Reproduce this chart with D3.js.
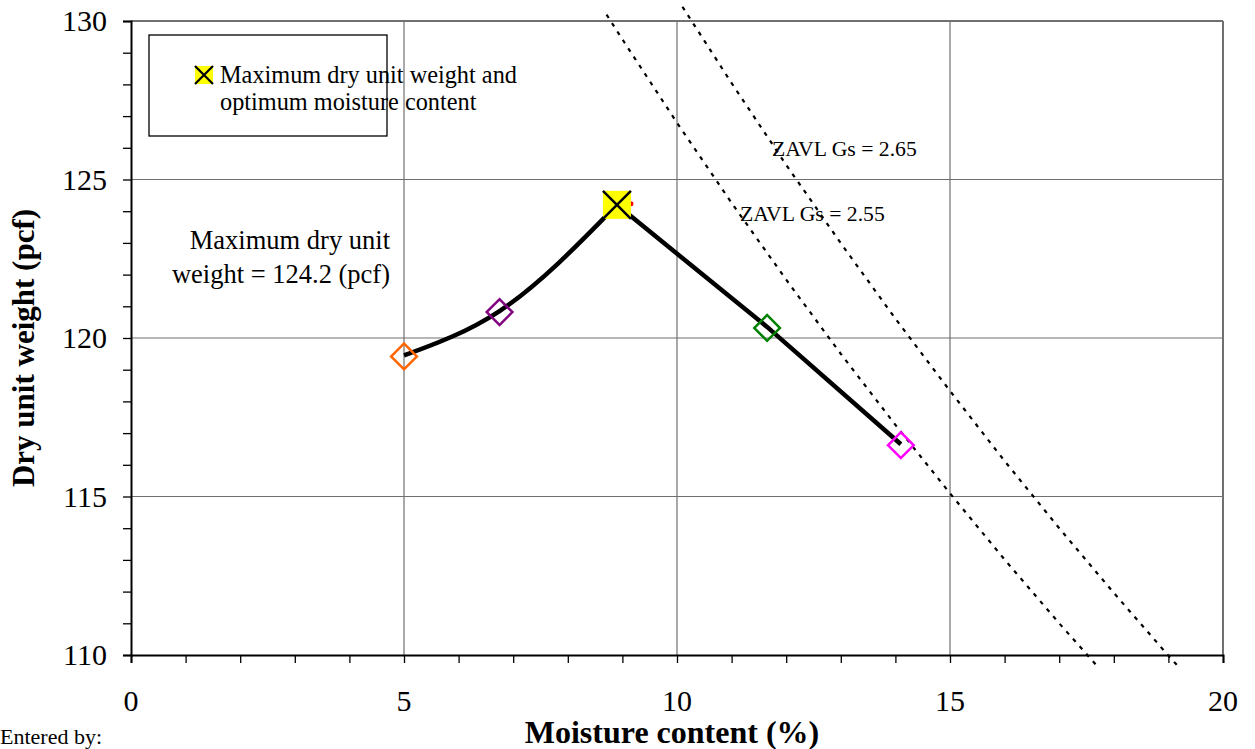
<!DOCTYPE html>
<html>
<head>
<meta charset="utf-8">
<script src="https://cdn.jsdelivr.net/npm/d3@7"></script>
<style>
  body { margin: 0; background: #fff; overflow: hidden; }
  text { font-family: "Liberation Serif", "Times New Roman", serif; }
</style>
</head>
<body>
<script>
// Compaction test data
const moisture = [5.0, 6.75, 8.9, 11.65, 14.1];
const dryWeight = [119.45, 120.85, 124.2, 120.35, 116.65];
const pointColors = ["#ff6600", "#800080", null, "#008000", "#ff00ff"];
const maxPoint = { w: 8.9, y: 124.2 };

// Zero air void lines
const zav265w = [10.1, 11, 12, 13, 14, 15, 16, 17, 18, 19, 19.2];
const zav265y = [130.45, 128.04, 125.46, 122.99, 120.61, 118.33, 116.12, 114.0, 111.96, 109.98, 109.6];
const zav255w = [8.71, 9, 10, 11, 12, 13, 14, 15, 16, 17, 17.72];
const zav255y = [130.2, 129.42, 126.79, 124.26, 121.84, 119.5, 117.26, 115.1, 113.01, 111.0, 109.6];

const xTicks = [0, 5, 10, 15, 20];
const yTicks = [110, 115, 120, 125, 130];

const width = 1255;
const height = 749;
const margin = { left: 131, right: 32, top: 21, bottom: 94 };

const svg = d3.select("body").append("svg")
    .attr("width", width)
    .attr("height", height);

const x = d3.scaleLinear().domain([0, 20]).range([margin.left, width - margin.right]);
const y = d3.scaleLinear().domain([110, 130]).range([height - margin.bottom, margin.top]);

// gridlines
svg.append("g").selectAll("line.v")
    .data([5, 10, 15, 20])
    .enter().append("line")
    .attr("x1", d => x(d)).attr("x2", d => x(d))
    .attr("y1", y(110)).attr("y2", y(130))
    .attr("stroke", "#707070").attr("stroke-width", d => d === 20 ? 2 : 1.2);
svg.append("g").selectAll("line.h")
    .data([115, 120, 125, 130])
    .enter().append("line")
    .attr("x1", x(0)).attr("x2", x(20))
    .attr("y1", d => y(d)).attr("y2", d => y(d))
    .attr("stroke", "#707070").attr("stroke-width", d => d === 130 ? 2 : 1.2);

// axes
const xAxis = d3.axisBottom(x).tickValues(d3.range(0, 21, 1)).tickSize(8).tickFormat("");
const yAxis = d3.axisLeft(y).tickValues(d3.range(110, 131, 1)).tickSize(8).tickFormat("");
const gx = svg.append("g").attr("transform", `translate(0,${y(110)})`).call(xAxis);
const gy = svg.append("g").attr("transform", `translate(${x(0)},0)`).call(yAxis);
[gx, gy].forEach(g => {
    g.select(".domain").attr("stroke", "#000").attr("stroke-width", 2);
    g.selectAll(".tick line").attr("stroke", "#000").attr("stroke-width", 1.3);
});

svg.append("g").selectAll("text")
    .data(xTicks)
    .enter().append("text")
    .attr("x", d => x(d))
    .attr("y", y(110) + 56)
    .attr("text-anchor", "middle")
    .attr("font-size", 30)
    .text(d => d);
svg.append("g").selectAll("text")
    .data(yTicks)
    .enter().append("text")
    .attr("x", x(0) - 24)
    .attr("y", d => y(d) + 10)
    .attr("text-anchor", "end")
    .attr("font-size", 30)
    .text(d => d);

// axis titles
svg.append("text")
    .attr("x", 672).attr("y", 743)
    .attr("text-anchor", "middle")
    .attr("font-size", 32).attr("font-weight", "bold")
    .text("Moisture content (%)");
svg.append("text")
    .attr("transform", "translate(34,348) rotate(-90)")
    .attr("text-anchor", "middle")
    .attr("font-size", 31).attr("font-weight", "bold")
    .text("Dry unit weight (pcf)");

svg.append("text")
    .attr("x", 0).attr("y", 744)
    .attr("font-size", 22)
    .text("Entered by:");

// ZAV lines
const zavLine = d3.line().x(d => x(d[0])).y(d => y(d[1]));
[[zav265w, zav265y], [zav255w, zav255y]].forEach(([ws, ys]) => {
    svg.append("path")
        .attr("d", zavLine(ws.map((w, i) => [w, ys[i]])))
        .attr("fill", "none")
        .attr("stroke", "#000")
        .attr("stroke-width", 2.2)
        .attr("stroke-dasharray", "4,6");
});
svg.append("text").attr("x", 772).attr("y", 156).attr("font-size", 21.7).text("ZAVL Gs = 2.65");
svg.append("text").attr("x", 740).attr("y", 221).attr("font-size", 21.7).text("ZAVL Gs = 2.55");

// compaction curve
const pts = moisture.map((w, i) => [w, dryWeight[i]]);
const curveUp = d3.line().x(d => x(d[0])).y(d => y(d[1])).curve(d3.curveMonotoneX);
const curveDown = d3.line().x(d => x(d[0])).y(d => y(d[1]));
svg.append("path")
    .attr("d", curveUp(pts.slice(0, 3)))
    .attr("fill", "none").attr("stroke", "#000").attr("stroke-width", 4.5);
svg.append("path")
    .attr("d", curveDown(pts.slice(2)))
    .attr("fill", "none").attr("stroke", "#000").attr("stroke-width", 4.5);

// diamond markers
const diamond = d3.symbol().type(d3.symbolSquare).size(330);
svg.append("g").selectAll("path")
    .data(pts.map((p, i) => ({ p, c: pointColors[i] })).filter(d => d.c))
    .enter().append("path")
    .attr("d", diamond)
    .attr("transform", d => `translate(${x(d.p[0])},${y(d.p[1]) + 1}) rotate(45)`)
    .attr("fill", "none")
    .attr("stroke", d => d.c)
    .attr("stroke-width", 2.5);

// maximum marker
function maxMarker(g, cx, cy, s) {
    g.append("rect")
        .attr("x", cx - s / 2).attr("y", cy - s / 2)
        .attr("width", s).attr("height", s)
        .attr("fill", "#ffff00");
    g.append("path")
        .attr("d", `M${cx - s / 2},${cy - s / 2}L${cx + s / 2},${cy + s / 2}M${cx + s / 2},${cy - s / 2}L${cx - s / 2},${cy + s / 2}`)
        .attr("stroke", "#000")
        .attr("stroke-width", s > 20 ? 2.5 : 2.2);
}
svg.append("circle")
    .attr("cx", x(maxPoint.w) + 14).attr("cy", y(maxPoint.y) - 1)
    .attr("r", 2.5).attr("fill", "#ff0000");
maxMarker(svg.append("g"), x(maxPoint.w), y(maxPoint.y), 28);

// annotation
const ann = svg.append("text")
    .attr("text-anchor", "end")
    .attr("font-size", 26.5);
ann.append("tspan").attr("x", 390).attr("y", 249).text("Maximum dry unit");
ann.append("tspan").attr("x", 390).attr("y", 283).text("weight = 124.2 (pcf)");

// legend
const lg = svg.append("g");
lg.append("rect")
    .attr("x", 149).attr("y", 35)
    .attr("width", 238).attr("height", 101)
    .attr("fill", "#fff")
    .attr("stroke", "#000").attr("stroke-width", 1.3);
maxMarker(lg, 204, 75, 18);
const lt = lg.append("text").attr("font-size", 24.3);
lt.append("tspan").attr("x", 220).attr("y", 83).text("Maximum dry unit weight and");
lt.append("tspan").attr("x", 220).attr("y", 110).text("optimum moisture content");
</script>
</body>
</html>
